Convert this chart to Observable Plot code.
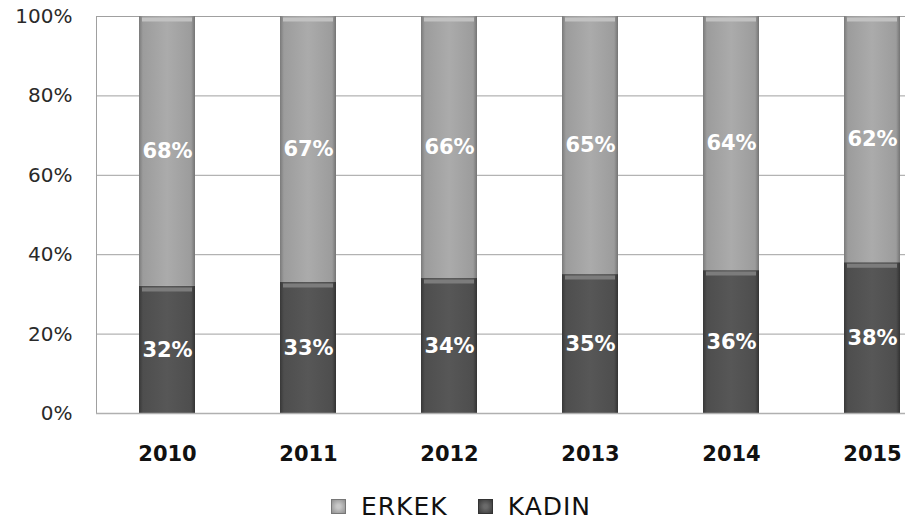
<!DOCTYPE html>
<html>
<head>
<meta charset="utf-8">
<script src="https://cdn.jsdelivr.net/npm/d3@7"></script>
<script src="https://cdn.jsdelivr.net/npm/@observablehq/plot@0.6"></script>
<style>
  body { margin: 0; background: #fff; font-family: "DejaVu Sans", sans-serif; }
  #legend { display: flex; justify-content: center; align-items: center; height: 24px; margin-top: 14px; padding-left: 17px; font-size: 25px; letter-spacing: 1px; color: #111; }
  .sw { width: 15px; height: 15px; box-sizing: border-box; margin-right: 15px; }
  .item { display: flex; align-items: center; margin: 0 15px; }
</style>
</head>
<body>
<div id="chart"></div>
<div id="legend">
  <div class="item"><div class="sw" style="background: radial-gradient(circle, #c8c8c8 20%, #8f8f8f 100%); border:1px solid #777"></div>ERKEK</div>
  <div class="item"><div class="sw" style="background: radial-gradient(circle, #6a6a6a 20%, #3a3a3a 100%); border:1px solid #333"></div>KADIN</div>
</div>
<script>
const years = ["2010", "2011", "2012", "2013", "2014", "2015"];
const kadin = [32, 33, 34, 35, 36, 38];
const erkek = [68, 67, 66, 65, 64, 62];
const yTicks = [0, 20, 40, 60, 80, 100];

const data = years.flatMap((year, i) => [
  {year, sex: "KADIN", v: kadin[i]},
  {year, sex: "ERKEK", v: erkek[i]}
]);

const fillOf = {KADIN: "url(#gK)", ERKEK: "url(#gE)"};
const topOf = {KADIN: "#7c7c7c", ERKEK: "#c2c2c2"};

const svg = Plot.plot({
  width: 905,
  height: 480,
  marginTop: 16,
  marginBottom: 67,
  marginLeft: 96,
  marginRight: 0,
  style: {fontFamily: "DejaVu Sans, sans-serif", background: "#fff"},
  x: {domain: years, range: [95, 944], paddingInner: 0.6, paddingOuter: 0.3, label: null},
  y: {domain: [0, 100], label: null},
  color: {type: "identity"},
  marks: [
    Plot.gridY(yTicks, {stroke: "#a0a0a0", strokeOpacity: 1}),
    Plot.frame({anchor: "left", stroke: "#a0a0a0"}),
    Plot.barY(data, Plot.stackY({x: "year", y: "v", fill: d => fillOf[d.sex]})),
    Plot.tickY(data, Plot.stackY2({x: "year", y: "v", stroke: d => topOf[d.sex], strokeWidth: 4, dy: 3, inset: 3})),
    Plot.ruleY([0], {stroke: "#b0b0b0", strokeWidth: 1.5}),
    Plot.text(data, Plot.stackY({x: "year", y: "v", text: d => d.v + "%", fill: "white", fontWeight: "bold", fontSize: 21})),
    Plot.axisY(yTicks, {tickFormat: d => d + "%", tickSize: 0, tickPadding: 24, fontSize: 20, fill: "#2a2a2a", letterSpacing: 1, label: null}),
    Plot.axisX({tickSize: 0, tickPadding: 33, fontSize: 21, fontWeight: "bold", fill: "#111", label: null})
  ]
});

svg.insertAdjacentHTML("afterbegin", `
<defs>
  <linearGradient id="gE" x1="0" x2="1" y1="0" y2="0">
    <stop offset="0" stop-color="#7a7a7a"/>
    <stop offset="0.07" stop-color="#9c9c9c"/>
    <stop offset="0.5" stop-color="#ababab"/>
    <stop offset="0.93" stop-color="#9c9c9c"/>
    <stop offset="1" stop-color="#747474"/>
  </linearGradient>
  <linearGradient id="gK" x1="0" x2="1" y1="0" y2="0">
    <stop offset="0" stop-color="#383838"/>
    <stop offset="0.07" stop-color="#4e4e4e"/>
    <stop offset="0.5" stop-color="#575757"/>
    <stop offset="0.93" stop-color="#4e4e4e"/>
    <stop offset="1" stop-color="#333333"/>
  </linearGradient>
</defs>`);

document.getElementById("chart").appendChild(svg);
</script>
</body>
</html>
